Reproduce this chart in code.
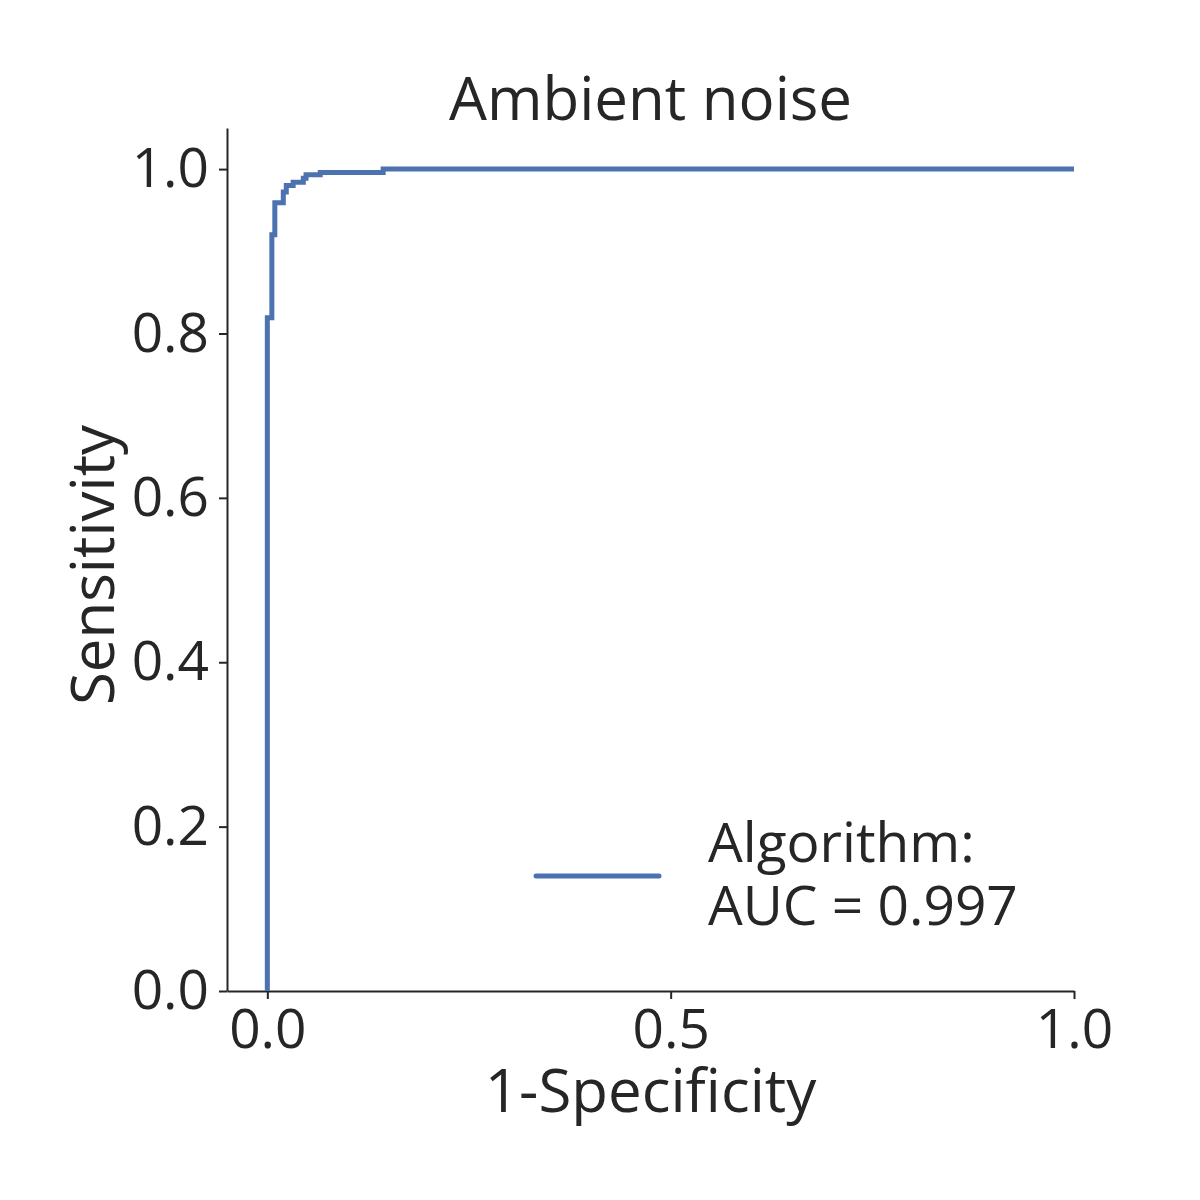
<!DOCTYPE html>
<html>
<head>
<meta charset="utf-8">
<script src="https://cdn.jsdelivr.net/npm/d3@7"></script>
<style>
  body { margin: 0; background: #fff; }
  text { font-family: 'Open Sans', sans-serif; fill: #262626; }
</style>
</head>
<body>
<div id="chart"></div>
<script>
// ROC curve points (step after each threshold)
var fpr = [0, 0, 0.0056, 0.0093, 0.0198, 0.0235, 0.032, 0.0446, 0.048, 0.0656, 0.1436, 1.0]
var tpr = [0, 0.819, 0.920, 0.959, 0.972, 0.980, 0.984, 0.989, 0.993, 0.996, 1.0, 1.0]
var xTicks = [0, 0.5, 1.0]
var yTicks = [0, 0.2, 0.4, 0.6, 0.8, 1.0]
var title = 'Ambient noise'
var legendLines = ['Algorithm:', 'AUC = 0.997']

var width = 1200
var height = 1200
var margin = { top: 128, right: 126, bottom: 209, left: 227 }
var tickFont = 55
var labelFont = 60
var ink = '#262626'
var lineColor = '#4c72b0'

var svg = d3
  .select('#chart')
  .append('svg')
  .attr('width', width)
  .attr('height', height)

var x = d3
  .scaleLinear()
  .domain([-0.05, 1.0])
  .range([margin.left, width - margin.right])

var y = d3
  .scaleLinear()
  .domain([0, 1.05])
  .range([height - margin.bottom, margin.top])

var xAxis = d3
  .axisBottom(x)
  .tickValues(xTicks)
  .tickFormat(d3.format('.1f'))
  .tickSizeInner(8)
  .tickSizeOuter(0)
  .tickPadding(10)

var yAxis = d3
  .axisLeft(y)
  .tickValues(yTicks)
  .tickFormat(d3.format('.1f'))
  .tickSizeInner(8)
  .tickSizeOuter(0)
  .tickPadding(10)

function styleAxis(g) {
  g.select('.domain').attr('stroke', ink).attr('stroke-width', 2)
  g.selectAll('.tick line').attr('stroke', ink).attr('stroke-width', 2)
  g.selectAll('.tick text')
    .attr('font-family', "'Open Sans', sans-serif")
    .attr('font-size', tickFont + 'px')
    .attr('fill', ink)
}

svg
  .append('g')
  .attr('transform', 'translate(0,' + (height - margin.bottom) + ')')
  .call(xAxis)
  .call(styleAxis)

svg
  .append('g')
  .attr('transform', 'translate(' + margin.left + ',0)')
  .call(yAxis)
  .call(styleAxis)

var points = fpr.map(function(d, i) {
  return [d, tpr[i]]
})

var line = d3
  .line()
  .x(function(d) {
    return x(d[0])
  })
  .y(function(d) {
    return y(d[1])
  })
  .curve(d3.curveStepAfter)

svg
  .append('path')
  .datum(points)
  .attr('d', line)
  .attr('fill', 'none')
  .attr('stroke', lineColor)
  .attr('stroke-width', 5)
  .attr('stroke-linejoin', 'miter')

// title and axis labels
svg
  .append('text')
  .attr('x', (margin.left + width - margin.right) / 2)
  .attr('y', 120)
  .attr('text-anchor', 'middle')
  .attr('font-size', labelFont + 'px')
  .text(title)

svg
  .append('text')
  .attr('x', (margin.left + width - margin.right) / 2)
  .attr('y', 1112)
  .attr('text-anchor', 'middle')
  .attr('font-size', labelFont + 'px')
  .text('1-Specificity')

svg
  .append('text')
  .attr('transform', 'translate(114,565) rotate(-90)')
  .attr('text-anchor', 'middle')
  .attr('font-size', labelFont + 'px')
  .text('Sensitivity')

// legend
var legend = svg.append('g').attr('transform', 'translate(536,876)')

legend
  .append('line')
  .attr('x1', 0)
  .attr('x2', 123)
  .attr('y1', 0)
  .attr('y2', 0)
  .attr('stroke', lineColor)
  .attr('stroke-width', 5)
  .attr('stroke-linecap', 'round')

legend
  .selectAll('text')
  .data(legendLines)
  .enter()
  .append('text')
  .attr('x', 172)
  .attr('y', function(d, i) {
    return -14 + i * 63
  })
  .attr('font-size', tickFont + 'px')
  .text(function(d) {
    return d
  })
</script>
</body>
</html>
